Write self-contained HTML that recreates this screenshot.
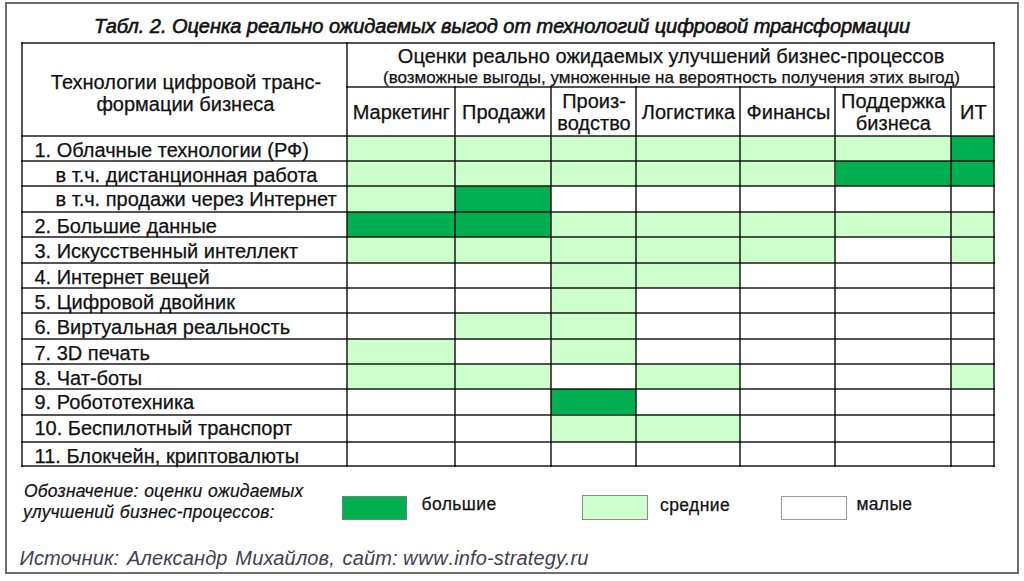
<!DOCTYPE html>
<html><head><meta charset="utf-8"><style>
html,body{margin:0;padding:0;background:#fff;}
body{width:1024px;height:581px;position:relative;overflow:hidden;font-family:"Liberation Sans",sans-serif;}
body>div{position:absolute;}
.t{white-space:pre;-webkit-text-stroke:0.25px currentColor;}
</style></head><body>
<div style="left:347px;top:136px;width:108px;height:25px;background:#ccffcc;"></div>
<div style="left:455px;top:136px;width:96px;height:25px;background:#ccffcc;"></div>
<div style="left:551px;top:136px;width:85px;height:25px;background:#ccffcc;"></div>
<div style="left:636px;top:136px;width:104px;height:25px;background:#ccffcc;"></div>
<div style="left:740px;top:136px;width:96px;height:25px;background:#ccffcc;"></div>
<div style="left:836px;top:136px;width:115px;height:25px;background:#ccffcc;"></div>
<div style="left:951px;top:136px;width:43px;height:25px;background:#00b050;"></div>
<div style="left:347px;top:161px;width:108px;height:25px;background:#ccffcc;"></div>
<div style="left:455px;top:161px;width:96px;height:25px;background:#ccffcc;"></div>
<div style="left:551px;top:161px;width:85px;height:25px;background:#ccffcc;"></div>
<div style="left:636px;top:161px;width:104px;height:25px;background:#ccffcc;"></div>
<div style="left:740px;top:161px;width:96px;height:25px;background:#ccffcc;"></div>
<div style="left:836px;top:161px;width:115px;height:25px;background:#00b050;"></div>
<div style="left:951px;top:161px;width:43px;height:25px;background:#00b050;"></div>
<div style="left:347px;top:186px;width:108px;height:26px;background:#ccffcc;"></div>
<div style="left:455px;top:186px;width:96px;height:26px;background:#00b050;"></div>
<div style="left:347px;top:212px;width:108px;height:25px;background:#00b050;"></div>
<div style="left:455px;top:212px;width:96px;height:25px;background:#00b050;"></div>
<div style="left:551px;top:212px;width:85px;height:25px;background:#ccffcc;"></div>
<div style="left:636px;top:212px;width:104px;height:25px;background:#ccffcc;"></div>
<div style="left:740px;top:212px;width:96px;height:25px;background:#ccffcc;"></div>
<div style="left:836px;top:212px;width:115px;height:25px;background:#ccffcc;"></div>
<div style="left:951px;top:212px;width:43px;height:25px;background:#ccffcc;"></div>
<div style="left:347px;top:237px;width:108px;height:26px;background:#ccffcc;"></div>
<div style="left:455px;top:237px;width:96px;height:26px;background:#ccffcc;"></div>
<div style="left:551px;top:237px;width:85px;height:26px;background:#ccffcc;"></div>
<div style="left:636px;top:237px;width:104px;height:26px;background:#ccffcc;"></div>
<div style="left:740px;top:237px;width:96px;height:26px;background:#ccffcc;"></div>
<div style="left:951px;top:237px;width:43px;height:26px;background:#ccffcc;"></div>
<div style="left:551px;top:263px;width:85px;height:25px;background:#ccffcc;"></div>
<div style="left:636px;top:263px;width:104px;height:25px;background:#ccffcc;"></div>
<div style="left:551px;top:288px;width:85px;height:25px;background:#ccffcc;"></div>
<div style="left:455px;top:313px;width:96px;height:26px;background:#ccffcc;"></div>
<div style="left:551px;top:313px;width:85px;height:26px;background:#ccffcc;"></div>
<div style="left:347px;top:339px;width:108px;height:25px;background:#ccffcc;"></div>
<div style="left:551px;top:339px;width:85px;height:25px;background:#ccffcc;"></div>
<div style="left:347px;top:364px;width:108px;height:25px;background:#ccffcc;"></div>
<div style="left:455px;top:364px;width:96px;height:25px;background:#ccffcc;"></div>
<div style="left:636px;top:364px;width:104px;height:25px;background:#ccffcc;"></div>
<div style="left:951px;top:364px;width:43px;height:25px;background:#ccffcc;"></div>
<div style="left:551px;top:389px;width:85px;height:25px;background:#00b050;"></div>
<div style="left:551px;top:414px;width:85px;height:28px;background:#ccffcc;"></div>
<div style="left:636px;top:414px;width:104px;height:28px;background:#ccffcc;"></div>
<div style="left:5px;top:2px;width:1014px;height:572px;box-sizing:border-box;border:2px solid #6e6e6e;"></div>
<div style="left:21px;top:42px;width:974px;height:2px;background:rgba(0,0,0,0.67);"></div>
<div style="left:346px;top:86px;width:649px;height:2px;background:rgba(0,0,0,0.67);"></div>
<div style="left:21px;top:135px;width:974px;height:2px;background:rgba(0,0,0,0.67);"></div>
<div style="left:21px;top:160px;width:974px;height:2px;background:rgba(0,0,0,0.67);"></div>
<div style="left:21px;top:185px;width:974px;height:2px;background:rgba(0,0,0,0.67);"></div>
<div style="left:21px;top:211px;width:974px;height:2px;background:rgba(0,0,0,0.67);"></div>
<div style="left:21px;top:236px;width:974px;height:2px;background:rgba(0,0,0,0.67);"></div>
<div style="left:21px;top:262px;width:974px;height:2px;background:rgba(0,0,0,0.67);"></div>
<div style="left:21px;top:287px;width:974px;height:2px;background:rgba(0,0,0,0.67);"></div>
<div style="left:21px;top:312px;width:974px;height:2px;background:rgba(0,0,0,0.67);"></div>
<div style="left:21px;top:338px;width:974px;height:2px;background:rgba(0,0,0,0.67);"></div>
<div style="left:21px;top:363px;width:974px;height:2px;background:rgba(0,0,0,0.67);"></div>
<div style="left:21px;top:388px;width:974px;height:2px;background:rgba(0,0,0,0.67);"></div>
<div style="left:21px;top:414px;width:974px;height:2px;background:rgba(0,0,0,0.67);"></div>
<div style="left:21px;top:441px;width:974px;height:2px;background:rgba(0,0,0,0.67);"></div>
<div style="left:21px;top:465px;width:974px;height:2px;background:rgba(0,0,0,0.67);"></div>
<div style="left:21px;top:42px;width:2px;height:425px;background:rgba(0,0,0,0.67);"></div>
<div style="left:346px;top:42px;width:2px;height:425px;background:rgba(0,0,0,0.67);"></div>
<div style="left:454px;top:86px;width:2px;height:381px;background:rgba(0,0,0,0.67);"></div>
<div style="left:550px;top:86px;width:2px;height:381px;background:rgba(0,0,0,0.67);"></div>
<div style="left:635px;top:86px;width:2px;height:381px;background:rgba(0,0,0,0.67);"></div>
<div style="left:739px;top:86px;width:2px;height:381px;background:rgba(0,0,0,0.67);"></div>
<div style="left:834px;top:86px;width:2px;height:381px;background:rgba(0,0,0,0.67);"></div>
<div style="left:950px;top:86px;width:2px;height:381px;background:rgba(0,0,0,0.67);"></div>
<div style="left:993px;top:42px;width:2px;height:425px;background:rgba(0,0,0,0.67);"></div>
<div class="t" style="top:15.67px;font-size:20px;line-height:20px;font-style:italic;font-weight:normal;color:#111;-webkit-text-stroke:0.6px #111;letter-spacing:-0.045px;left:94.00px;">Табл. 2. Оценка реально ожидаемых выгод от технологий цифровой трансформации</div>
<div class="t" style="top:71.97px;font-size:20px;line-height:20px;font-style:normal;font-weight:normal;color:#111;left:-214.00px;width:800px;text-align:center;">Технологии цифровой транс-</div>
<div class="t" style="top:93.97px;font-size:20px;line-height:20px;font-style:normal;font-weight:normal;color:#111;left:-214.60px;width:800px;text-align:center;">формации бизнеса</div>
<div class="t" style="top:45.97px;font-size:20px;line-height:20px;font-style:normal;font-weight:normal;color:#111;left:271.10px;width:800px;text-align:center;">Оценки реально ожидаемых улучшений бизнес-процессов</div>
<div class="t" style="top:69.41px;font-size:17px;line-height:17px;font-style:normal;font-weight:normal;color:#111;left:271.50px;width:800px;text-align:center;">(возможные выгоды, умноженные на вероятность получения этих выгод)</div>
<div class="t" style="top:102.07px;font-size:20px;line-height:20px;font-style:normal;font-weight:normal;color:#111;left:1.30px;width:800px;text-align:center;">Маркетинг</div>
<div class="t" style="top:102.07px;font-size:20px;line-height:20px;font-style:normal;font-weight:normal;color:#111;left:103.80px;width:800px;text-align:center;">Продажи</div>
<div class="t" style="top:90.57px;font-size:20px;line-height:20px;font-style:normal;font-weight:normal;color:#111;left:194.00px;width:800px;text-align:center;">Произ-</div>
<div class="t" style="top:112.67px;font-size:20px;line-height:20px;font-style:normal;font-weight:normal;color:#111;left:194.00px;width:800px;text-align:center;">водство</div>
<div class="t" style="top:102.07px;font-size:20px;line-height:20px;font-style:normal;font-weight:normal;color:#111;left:288.50px;width:800px;text-align:center;">Логистика</div>
<div class="t" style="top:102.07px;font-size:20px;line-height:20px;font-style:normal;font-weight:normal;color:#111;left:388.50px;width:800px;text-align:center;">Финансы</div>
<div class="t" style="top:90.57px;font-size:20px;line-height:20px;font-style:normal;font-weight:normal;color:#111;left:493.20px;width:800px;text-align:center;">Поддержка</div>
<div class="t" style="top:112.67px;font-size:20px;line-height:20px;font-style:normal;font-weight:normal;color:#111;left:493.40px;width:800px;text-align:center;">бизнеса</div>
<div class="t" style="top:102.07px;font-size:20px;line-height:20px;font-style:normal;font-weight:normal;color:#111;left:573.30px;width:800px;text-align:center;">ИТ</div>
<div class="t" style="top:139.57px;font-size:20px;line-height:20px;font-style:normal;font-weight:normal;color:#111;left:34.50px;">1. Облачные технологии (РФ)</div>
<div class="t" style="top:164.57px;font-size:20px;line-height:20px;font-style:normal;font-weight:normal;color:#111;left:55.50px;">в т.ч. дистанционная работа</div>
<div class="t" style="top:189.17px;font-size:20px;line-height:20px;font-style:normal;font-weight:normal;color:#111;left:55.50px;">в т.ч. продажи через Интернет</div>
<div class="t" style="top:215.57px;font-size:20px;line-height:20px;font-style:normal;font-weight:normal;color:#111;left:34.50px;">2. Большие данные</div>
<div class="t" style="top:240.57px;font-size:20px;line-height:20px;font-style:normal;font-weight:normal;color:#111;left:34.50px;">3. Искусственный интеллект</div>
<div class="t" style="top:266.57px;font-size:20px;line-height:20px;font-style:normal;font-weight:normal;color:#111;left:34.50px;">4. Интернет вещей</div>
<div class="t" style="top:291.57px;font-size:20px;line-height:20px;font-style:normal;font-weight:normal;color:#111;left:34.50px;">5. Цифровой двойник</div>
<div class="t" style="top:316.57px;font-size:20px;line-height:20px;font-style:normal;font-weight:normal;color:#111;left:34.50px;">6. Виртуальная реальность</div>
<div class="t" style="top:342.57px;font-size:20px;line-height:20px;font-style:normal;font-weight:normal;color:#111;left:34.50px;">7. 3D печать</div>
<div class="t" style="top:367.57px;font-size:20px;line-height:20px;font-style:normal;font-weight:normal;color:#111;left:34.50px;">8. Чат-боты</div>
<div class="t" style="top:392.17px;font-size:20px;line-height:20px;font-style:normal;font-weight:normal;color:#111;left:34.50px;">9. Робототехника</div>
<div class="t" style="top:418.07px;font-size:20px;line-height:20px;font-style:normal;font-weight:normal;color:#111;left:34.50px;">10. Беспилотный транспорт</div>
<div class="t" style="top:445.57px;font-size:20px;line-height:20px;font-style:normal;font-weight:normal;color:#111;left:34.50px;">11. Блокчейн, криптовалюты</div>
<div class="t" style="top:483.39px;font-size:17.5px;line-height:17.5px;font-style:italic;font-weight:normal;color:#111;letter-spacing:0.2px;word-spacing:0.6px;-webkit-text-stroke:0.2px #111;left:24.00px;">Обозначение: оценки ожидаемых</div>
<div class="t" style="top:503.99px;font-size:17.5px;line-height:17.5px;font-style:italic;font-weight:normal;color:#111;letter-spacing:0.2px;word-spacing:0.6px;-webkit-text-stroke:0.2px #111;left:23.00px;">улучшений бизнес-процессов:</div>
<div style="left:342px;top:496px;width:65px;height:24px;box-sizing:border-box;background:#00b050;border:1px solid #6a8a70;"></div>
<div style="left:582px;top:495px;width:66px;height:25px;box-sizing:border-box;background:#ccffcc;border:1.5px solid #8a8a8a;"></div>
<div style="left:781px;top:496px;width:66px;height:24px;box-sizing:border-box;background:#fff;border:1.5px solid #999;"></div>
<div class="t" style="top:495.79px;font-size:17.5px;line-height:17.5px;font-style:normal;font-weight:normal;color:#111;letter-spacing:0.4px;left:421.50px;">большие</div>
<div class="t" style="top:496.79px;font-size:17.5px;line-height:17.5px;font-style:normal;font-weight:normal;color:#111;letter-spacing:0.4px;left:660.00px;">средние</div>
<div class="t" style="top:496.39px;font-size:17.5px;line-height:17.5px;font-style:normal;font-weight:normal;color:#111;letter-spacing:0.3px;left:856.50px;">малые</div>
<div class="t" style="top:547.77px;font-size:20px;line-height:20px;font-style:italic;font-weight:normal;color:#404050;letter-spacing:0.15px;word-spacing:2px;-webkit-text-stroke:0;left:19.50px;">Источник: Александр Михайлов, сайт:<span style="word-spacing:-0.5px"> </span><span style="letter-spacing:0.7px">www</span>.info-strategy.ru</div>
</body></html>
